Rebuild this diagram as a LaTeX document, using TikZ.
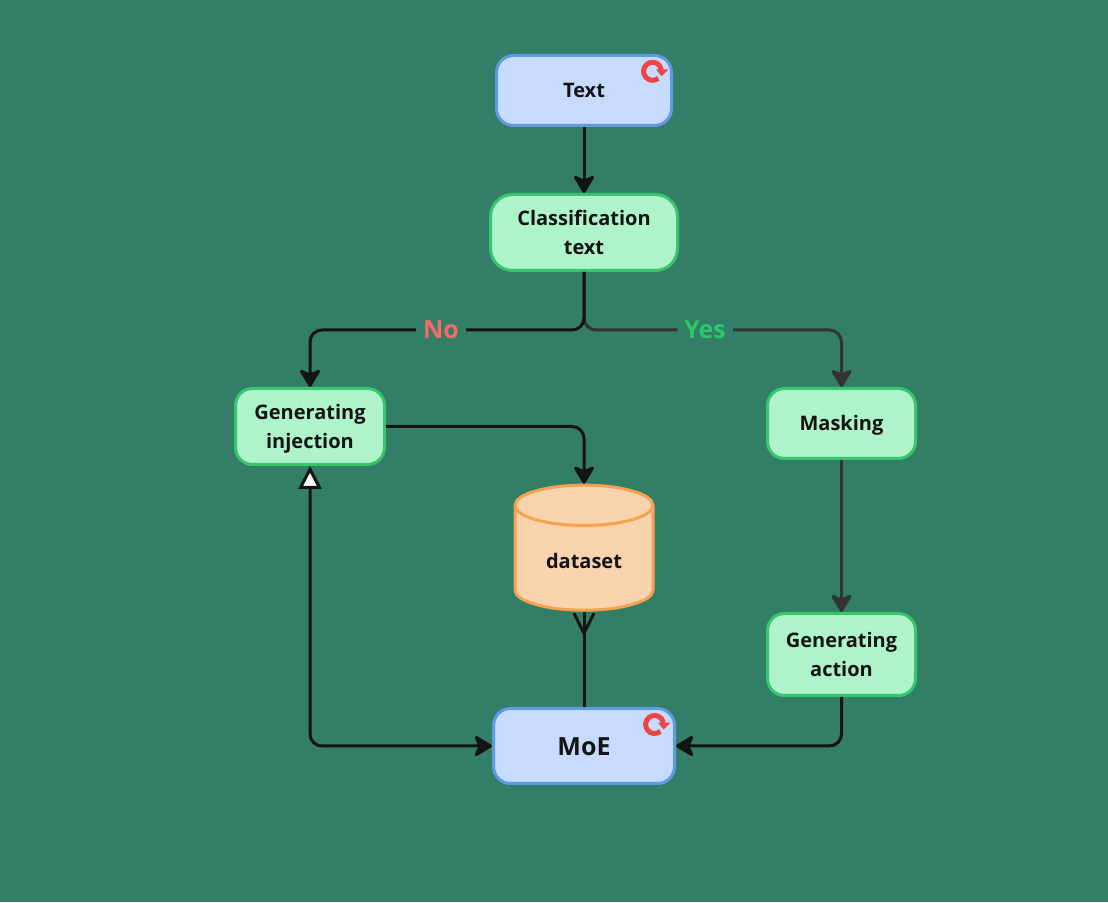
\documentclass[tikz,border=0pt]{standalone}
\usepackage{fontspec}
\setmainfont{Open Sans}
\usetikzlibrary{arrows.meta,shapes.geometric}

\definecolor{bgcol}{HTML}{337E66}
\definecolor{inkcol}{HTML}{141414}
\definecolor{yescol}{HTML}{333333}
\definecolor{bluefill}{HTML}{C6DBFE}
\definecolor{blueline}{HTML}{609AE4}
\definecolor{greenfill}{HTML}{AEF3C9}
\definecolor{greenline}{HTML}{35C66E}
\definecolor{orangefill}{HTML}{F8D3AE}
\definecolor{orangeline}{HTML}{F7A24F}
\definecolor{iconcol}{HTML}{EF4444}
\definecolor{nocol}{HTML}{F86A6A}
\definecolor{yeslabel}{HTML}{2CC768}

\tikzset{
    boxtext/.style={font=\fontsize{20}{29}\selectfont\bfseries,text=inkcol,align=center,
        execute at begin node={\rule{0pt}{20pt}},
        execute at end node={\rule[-5pt]{0pt}{5pt}}},
    twoline/.style={execute at begin node={\rule{0pt}{49pt}}},
    bluebox/.style={boxtext,rectangle,rounded corners=17pt,draw=blueline,fill=bluefill},
    greenbox/.style={boxtext,rectangle,rounded corners=17pt,draw=greenline,fill=greenfill},
    dbshape/.style={boxtext,cylinder,shape border rotate=90,aspect=0.53,
        draw=orangeline,cylinder uses custom fill,
        cylinder body fill=orangefill,cylinder end fill=orangefill,
        minimum width=138pt,minimum height=125pt},
    branchlabel/.style={fill=bgcol,inner sep=7pt,font=\fontsize{25}{25}\selectfont\bfseries},
    retry/.pic={
        \draw [iconcol,line width=5pt] (-50:9pt) arc[start angle=-50,delta angle=-300,radius=9pt];
        \fill [iconcol] (3.5,1.8) -- (15.8,1.8) -- (9,-5) -- cycle;
    },
}

\begin{document}
\begin{tikzpicture}[x=1pt,y=1pt]
\useasboundingbox (0,0) rectangle (1108,902);
\fill [bgcol] (0,0) rectangle (1108,902);

\begin{scope}[every node/.style={line width=3pt,outer sep=1.5pt,inner sep=0pt}]
    \node [bluebox,minimum width=175pt,minimum height=70pt] (txt) at (584,811.5) {Text};
    \node [greenbox,twoline,rounded corners=22pt,minimum width=187pt,minimum height=76pt] (cls) at (584,669.5) {Classification\\text};
    \node [greenbox,twoline,minimum width=149pt,minimum height=76pt] (inj) at (310,475.5) {Generating\\injection};
    \node [greenbox,minimum width=148pt,minimum height=70pt] (mask) at (841.5,478.5) {Masking};
    \node [greenbox,twoline,minimum width=148pt,minimum height=82pt] (act) at (841.5,247.5) {Generating\\action};
    \node [bluebox,font=\fontsize{25}{29}\selectfont\bfseries,minimum width=181pt,minimum height=75pt] (moe) at (584,156) {\raisebox{-2pt}{MoE}};
    \node [dbshape] (db) at (584,343.5) {\raisebox{-2.5pt}{dataset}};
\end{scope}

\pic at (652.6,830.7) {retry};
\pic at (654.6,177.5) {retry};

\coordinate (split) at (584,572);

\begin{scope}[line width=3pt,draw=inkcol,rounded corners=12pt,
              >={Stealth[length=20pt,width=24pt,inset=5pt,round]}]
    \draw [->,yescol] (cls.south) -- (split) -| node[branchlabel,text=yeslabel,pos=.235] {Yes} (mask.north);
    \draw [->,yescol] (mask) -- (act);
    \draw [->] (txt) -- (cls);
    \draw [->] (cls.south) -- (split) -| node[branchlabel,text=nocol,pos=.261] {No} (inj.north);
    \draw [->] (inj.east) -| (db.north);
    \draw [->] (act.south) |- (moe.east);
    \draw [{Triangle[open,fill=white,length=23pt,width=23pt,line width=3pt]}->] (inj.south) |- (moe.west);
    \draw (moe.north) -- (db.south);
    \draw [-{Straight Barb[reversed,length=20pt,width=20pt,line width=3pt]}] (moe.north) -- (db.south);
\end{scope}
\end{tikzpicture}
\end{document}
